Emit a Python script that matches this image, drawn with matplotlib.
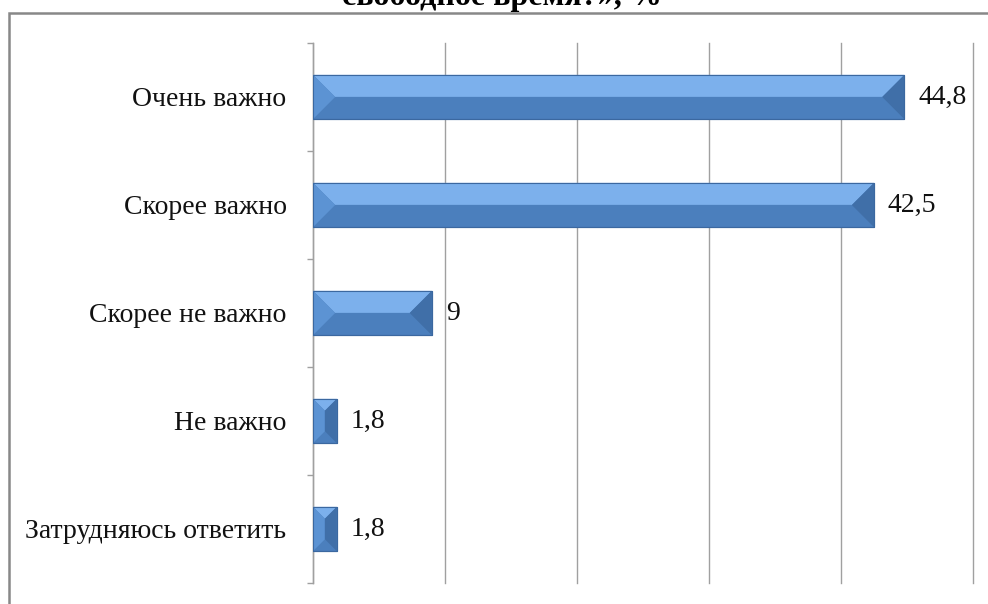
import matplotlib.pyplot as plt
from matplotlib.patches import Rectangle, Polygon
import numpy as np

# data
categories = ['Очень важно', 'Скорее важно', 'Скорее не важно', 'Не важно', 'Затрудняюсь ответить']
values = [44.8, 42.5, 9, 1.8, 1.8]
value_labels = ['44,8', '42,5', '9', '1,8', '1,8']
title = 'свободное время?», %'

plt.rcParams['font.family'] = ['Liberation Serif', 'DejaVu Serif']

fig = plt.figure(figsize=(9.88, 6.04), dpi=100)
ax = fig.add_axes([313 / 988, 1 - 583 / 604, 660 / 988, 540 / 604])

pos = np.arange(len(categories))
bar_h = 0.41
main_col = '#4b7fbd'
ax.barh(pos, values, height=bar_h, color=main_col, edgecolor='#3b68a0', linewidth=0.8, zorder=3)

ax.set_xlim(0, 50)
ax.set_ylim(len(categories) - 0.5, -0.5)

# bevel facets, 22 px deep
px_x = (660 / 50)
px_y = (540 / len(categories))
for y, v in zip(pos, values):
    w_px = v * px_x
    d_px = min(22, w_px / 2, bar_h * px_y / 2)
    dx = d_px / px_x
    dy = d_px / px_y
    top = y - bar_h / 2
    bot = y + bar_h / 2
    mid = top + dy
    facets = [
        ([(0, top), (v, top), (v - dx, mid), (dx, mid)], '#7cb0ec'),
        ([(0, top), (dx, mid), (dx, bot - dy), (0, bot)], '#5c93d3'),
        ([(v, top), (v - dx, mid), (v - dx, bot - dy), (v, bot)], '#406fa8'),
    ]
    for pts, c in facets:
        ax.add_patch(Polygon(pts, closed=True, facecolor=c, edgecolor='none', zorder=4))
    ax.add_patch(Rectangle((0, top), v, bar_h, facecolor='none', edgecolor='#3b68a0', linewidth=0.8, zorder=5))

for y, v, lab in zip(pos, values, value_labels):
    ax.annotate(lab, (v, y), xytext=(14, 0), textcoords='offset pixels',
                va='center', ha='left', fontsize=20, color='#111111')

ax.set_xticks(np.arange(0, 51, 10))
ax.set_xticklabels([])
ax.tick_params(axis='x', length=0)
ax.grid(axis='x', color='#a0a0a0', linewidth=1.0, zorder=0)
for gl in ax.get_xgridlines():
    gl.set_clip_on(False)

ax.set_yticks(pos)
ax.set_yticklabels(categories, fontsize=20, color='#111111')
ax.set_yticks(np.arange(-0.5, len(categories), 1), minor=True)
ax.tick_params(axis='y', which='major', length=0, pad=19)
ax.tick_params(axis='y', which='minor', length=4, width=1.0, color='#a0a0a0')

for s in ['top', 'right', 'bottom']:
    ax.spines[s].set_visible(False)
ax.spines['left'].set_color('#a0a0a0')
ax.spines['left'].set_linewidth(1.0)

# chart frame (runs off right and bottom edges)
fig.patches.append(Rectangle((9 / 988, -0.1), 1.1, 1 - 13 / 604 + 0.1, transform=fig.transFigure,
                             facecolor='none', edgecolor='#888888', linewidth=1.8, clip_on=False))

fig.text(502 / 988, 1 - 5 / 604, title, ha='center', va='baseline', fontsize=23,
         fontweight='bold', color='#000000')

fig.savefig('out.png', dpi=100)
